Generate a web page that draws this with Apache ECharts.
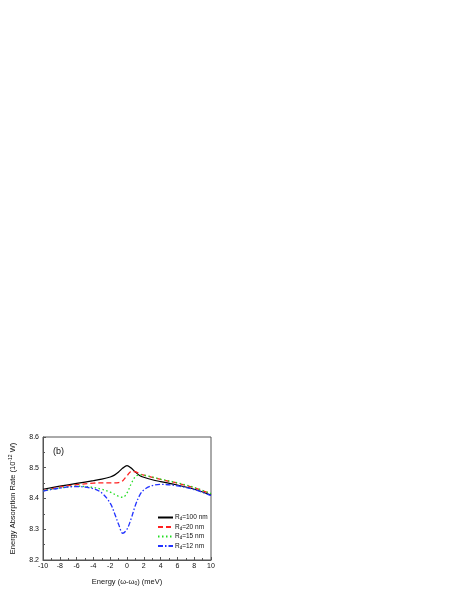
<!DOCTYPE html>
<html>
<head>
<meta charset="utf-8">
<script src="https://cdn.jsdelivr.net/npm/echarts@6/dist/echarts.min.js"></script>
<style>
  html, body { margin: 0; padding: 0; background: #fff; }
  #chart { width: 463px; height: 599px; }
</style>
</head>
<body>
<div id="chart"></div>
<script>
// energy offset (meV)
const energy = [-10, -8, -6, -4, -3, -2, -1.5, -1, -0.5, 0, 0.5, 1, 1.5, 2, 3, 4, 6, 8, 10];

// absorption rate (10^-12 W)
const rd100 = [8.430, 8.440, 8.449, 8.458, 8.463, 8.470, 8.476, 8.486, 8.499, 8.507, 8.499, 8.486, 8.475, 8.469, 8.461, 8.455, 8.444, 8.430, 8.411];
const rd20 = [8.425, 8.437, 8.445, 8.450, 8.451, 8.451, 8.451, 8.452, 8.458, 8.474, 8.488, 8.487, 8.481, 8.476, 8.469, 8.462, 8.450, 8.435, 8.415];
const rd15 = [8.425, 8.434, 8.440, 8.436, 8.430, 8.421, 8.414, 8.407, 8.404, 8.418, 8.448, 8.471, 8.477, 8.476, 8.470, 8.463, 8.451, 8.436, 8.416];
const rd12 = [8.424, 8.434, 8.439, 8.432, 8.418, 8.385, 8.353, 8.316, 8.287, 8.300, 8.335, 8.378, 8.410, 8.428, 8.442, 8.446, 8.441, 8.429, 8.410];

const seriesNames = ['R{sub|d}=100 nm', 'R{sub|d}=20 nm', 'R{sub|d}=15 nm', 'R{sub|d}=12 nm'];
const xTicks = [-10, 10, 2];
const yTicks = [8.2, 8.6, 0.1];

const font = 'Liberation Sans, Arial, sans-serif';
const chart = echarts.init(document.getElementById('chart'));

function pairs(ys) {
  return energy.map((x, i) => [x, ys[i]]);
}

function makeSeries(name, ys, color, type, width) {
  return {
    name: name,
    type: 'line',
    data: pairs(ys),
    smooth: 0.35,
    symbol: 'none',
    lineStyle: { color: color, width: width, type: type },
    itemStyle: { color: color },
  };
}

chart.setOption({
  animation: false,
  grid: {
    left: 43, top: 437, width: 168, height: 123,
    show: true, borderColor: '#555', borderWidth: 1,
  },
  xAxis: {
    type: 'value',
    min: xTicks[0], max: xTicks[1], interval: xTicks[2],
    name: 'Energy (ω-ω{sub|0}) (meV)',
    nameLocation: 'middle',
    nameGap: 17,
    nameTextStyle: {
      fontFamily: font, fontSize: 7.5, color: '#111',
      rich: { sub: { fontSize: 5, verticalAlign: 'bottom', padding: [4, 0, 0, 0] } },
    },
    axisLine: { onZero: false, lineStyle: { color: '#555', width: 1 } },
    axisTick: { inside: true, length: 3, lineStyle: { color: '#555' } },
    minorTick: { show: true, splitNumber: 2, length: 2, lineStyle: { color: '#555' } },
    splitLine: { show: false },
    axisLabel: { fontFamily: font, fontSize: 7, color: '#111', margin: 3 },
  },
  yAxis: {
    type: 'value',
    min: yTicks[0], max: yTicks[1], interval: yTicks[2],
    name: 'Energy Absorption Rate (10{sup|-12} W)',
    nameLocation: 'middle',
    nameGap: 26,
    nameTextStyle: {
      fontFamily: font, fontSize: 7.5, color: '#111',
      rich: { sup: { fontSize: 5, verticalAlign: 'top', padding: [0, 0, 4, 0] } },
    },
    axisLine: { show: true, onZero: false, lineStyle: { color: '#555', width: 1 } },
    axisTick: { show: true, inside: true, length: 3, lineStyle: { color: '#555' } },
    minorTick: { show: true, splitNumber: 2, length: 2, lineStyle: { color: '#555' } },
    splitLine: { show: false },
    axisLabel: {
      fontFamily: font, fontSize: 7, color: '#111', margin: 4,
      formatter: (v) => v.toFixed(1),
    },
  },
  legend: {
    orient: 'vertical',
    left: 152, top: 509,
    itemWidth: 15, itemHeight: 8, itemGap: 2,
    itemStyle: { opacity: 0 },
    textStyle: {
      fontFamily: font, fontSize: 6.5, color: '#111', padding: [0, 0, 0, -3],
      rich: { sub: { fontSize: 4.5, verticalAlign: 'bottom', padding: [3, 0, 0, 0] } },
    },
    data: seriesNames,
  },
  graphic: [
    {
      type: 'text', left: 53, top: 447,
      style: { text: '(b)', fontFamily: font, fontSize: 9, fill: '#111' },
    },
  ],
  series: [
    makeSeries(seriesNames[0], rd100, '#000000', 'solid', 1.2),
    makeSeries(seriesNames[1], rd20, '#ff2020', [5, 3], 1.3),
    makeSeries(seriesNames[2], rd15, '#22dd22', [1.5, 2.5], 1.3),
    makeSeries(seriesNames[3], rd12, '#2233ff', [5, 2, 1.5, 2], 1.3),
  ],
});
</script>
</body>
</html>
